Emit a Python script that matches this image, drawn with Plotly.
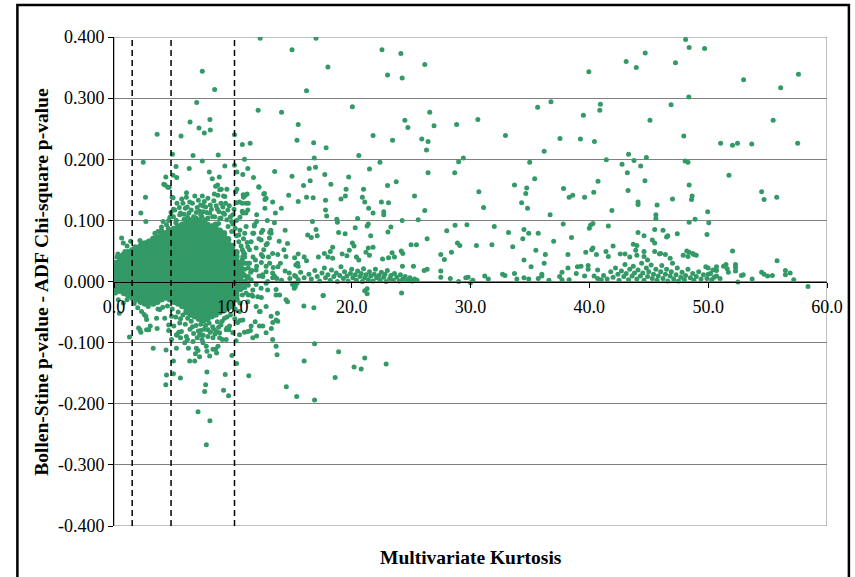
import plotly.graph_objects as go

# ---------------- data ----------------
x_ticks = [0, 10, 20, 30, 40, 50, 60]
x_tick_labels = ["0.0", "10.0", "20.0", "30.0", "40.0", "50.0", "60.0"]
y_ticks = [-0.4, -0.3, -0.2, -0.1, 0.0, 0.1, 0.2, 0.3, 0.4]
y_tick_labels = ["-0.400", "-0.300", "-0.200", "-0.100", "0.000", "0.100", "0.200", "0.300", "0.400"]
cutoffs = [1.53, 4.8, 10.14]

# dense core of points (too dense to separate individually; estimated columns)
core_x = [0.15, 0.50, 0.85, 1.20, 1.55, 1.90, 2.25, 2.60, 2.95, 3.30, 3.65, 4.00, 4.35, 4.70, 5.05, 5.40,
          5.75, 6.10, 6.45, 6.80, 7.15, 7.50, 7.85, 8.20, 8.55, 8.90, 9.25, 9.60, 9.95, 10.30, 10.65]
core_y = [
    [0.030, 0.023, 0.016, 0.009, 0.002, -0.005, -0.012],
    [0.041, 0.034, 0.027, 0.020, 0.013, 0.006, -0.001, -0.008, -0.015],
    [0.044, 0.037, 0.030, 0.023, 0.016, 0.009, 0.002, -0.005, -0.012, -0.019],
    [0.048, 0.041, 0.034, 0.027, 0.020, 0.013, 0.006, -0.001, -0.008, -0.015, -0.022],
    [0.051, 0.044, 0.037, 0.030, 0.023, 0.016, 0.009, 0.002, -0.005, -0.012, -0.019, -0.026],
    [0.055, 0.048, 0.041, 0.034, 0.027, 0.020, 0.013, 0.006, -0.001, -0.008, -0.015, -0.022, -0.029],
    [0.058, 0.051, 0.044, 0.037, 0.030, 0.023, 0.016, 0.009, 0.002, -0.005, -0.012, -0.019, -0.026, -0.033],
    [0.062, 0.055, 0.048, 0.041, 0.034, 0.027, 0.020, 0.013, 0.006, -0.001, -0.008, -0.015, -0.022, -0.029, -0.036],
    [0.065, 0.058, 0.051, 0.044, 0.037, 0.030, 0.023, 0.016, 0.009, 0.002, -0.005, -0.012, -0.019, -0.026, -0.033],
    [0.069, 0.062, 0.055, 0.048, 0.041, 0.034, 0.027, 0.020, 0.013, 0.006, -0.001, -0.008, -0.015, -0.022, -0.029, -0.036],
    [0.072, 0.065, 0.058, 0.051, 0.044, 0.037, 0.030, 0.023, 0.016, 0.009, 0.002, -0.005, -0.012, -0.019, -0.026, -0.033],
    [0.076, 0.069, 0.062, 0.055, 0.048, 0.041, 0.034, 0.027, 0.020, 0.013, 0.006, -0.001, -0.008, -0.015, -0.022, -0.029],
    [0.079, 0.072, 0.065, 0.058, 0.051, 0.044, 0.037, 0.030, 0.023, 0.016, 0.009, 0.002, -0.005, -0.012, -0.019, -0.026],
    [0.083, 0.076, 0.069, 0.062, 0.055, 0.048, 0.041, 0.034, 0.027, 0.020, 0.013, 0.006, -0.001, -0.008, -0.015, -0.022, -0.029],
    [0.086, 0.079, 0.072, 0.065, 0.058, 0.051, 0.044, 0.037, 0.030, 0.023, 0.016, 0.009, 0.002, -0.005, -0.012, -0.019, -0.026, -0.033],
    [0.090, 0.083, 0.076, 0.069, 0.062, 0.055, 0.048, 0.041, 0.034, 0.027, 0.020, 0.013, 0.006, -0.001, -0.008, -0.015, -0.022, -0.029, -0.036],
    [0.093, 0.086, 0.079, 0.072, 0.065, 0.058, 0.051, 0.044, 0.037, 0.030, 0.023, 0.016, 0.009, 0.002, -0.005, -0.012, -0.019, -0.026, -0.033, -0.040],
    [0.097, 0.090, 0.083, 0.076, 0.069, 0.062, 0.055, 0.048, 0.041, 0.034, 0.027, 0.020, 0.013, 0.006, -0.001, -0.008, -0.015, -0.022, -0.029, -0.036, -0.043, -0.050],
    [0.100, 0.093, 0.086, 0.079, 0.072, 0.065, 0.058, 0.051, 0.044, 0.037, 0.030, 0.023, 0.016, 0.009, 0.002, -0.005, -0.012, -0.019, -0.026, -0.033, -0.040, -0.047, -0.054],
    [0.097, 0.090, 0.083, 0.076, 0.069, 0.062, 0.055, 0.048, 0.041, 0.034, 0.027, 0.020, 0.013, 0.006, -0.001, -0.008, -0.015, -0.022, -0.029, -0.036, -0.043, -0.050, -0.057],
    [0.100, 0.093, 0.086, 0.079, 0.072, 0.065, 0.058, 0.051, 0.044, 0.037, 0.030, 0.023, 0.016, 0.009, 0.002, -0.005, -0.012, -0.019, -0.026, -0.033, -0.040, -0.047, -0.054, -0.061],
    [0.097, 0.090, 0.083, 0.076, 0.069, 0.062, 0.055, 0.048, 0.041, 0.034, 0.027, 0.020, 0.013, 0.006, -0.001, -0.008, -0.015, -0.022, -0.029, -0.036, -0.043, -0.050, -0.057, -0.064],
    [0.093, 0.086, 0.079, 0.072, 0.065, 0.058, 0.051, 0.044, 0.037, 0.030, 0.023, 0.016, 0.009, 0.002, -0.005, -0.012, -0.019, -0.026, -0.033, -0.040, -0.047, -0.054, -0.061],
    [0.090, 0.083, 0.076, 0.069, 0.062, 0.055, 0.048, 0.041, 0.034, 0.027, 0.020, 0.013, 0.006, -0.001, -0.008, -0.015, -0.022, -0.029, -0.036, -0.043, -0.050, -0.057],
    [0.093, 0.086, 0.079, 0.072, 0.065, 0.058, 0.051, 0.044, 0.037, 0.030, 0.023, 0.016, 0.009, 0.002, -0.005, -0.012, -0.019, -0.026, -0.033, -0.040, -0.047, -0.054],
    [0.083, 0.076, 0.069, 0.062, 0.055, 0.048, 0.041, 0.034, 0.027, 0.020, 0.013, 0.006, -0.001, -0.008, -0.015, -0.022, -0.029, -0.036, -0.043, -0.050],
    [0.079, 0.072, 0.065, 0.058, 0.051, 0.044, 0.037, 0.030, 0.023, 0.016, 0.009, 0.002, -0.005, -0.012, -0.019, -0.026, -0.033, -0.040, -0.047],
    [0.069, 0.062, 0.055, 0.048, 0.041, 0.034, 0.027, 0.020, 0.013, 0.006, -0.001, -0.008, -0.015, -0.022, -0.029, -0.036, -0.043],
    [0.058, 0.051, 0.044, 0.037, 0.030, 0.023, 0.016, 0.009, 0.002, -0.005, -0.012, -0.019, -0.026, -0.033, -0.040],
    [0.048, 0.041, 0.034, 0.027, 0.020, 0.013, 0.006, -0.001, -0.008, -0.015, -0.022, -0.029],
    [0.030, 0.023, 0.016, 0.009, 0.002, -0.005, -0.012],
]

# dense fringe around the core (kurtosis, p-value difference)
fringe_pts = [
    (4.7, 0.105), (5.0, 0.118), (5.3, 0.128), (5.6, 0.112), (5.7, 0.135), (6.0, 0.120), (6.1, 0.145),
    (6.3, 0.112), (6.6, 0.128), (6.8, 0.140), (6.9, 0.104), (7.1, 0.133), (7.2, 0.115), (7.4, 0.106),
    (7.5, 0.124), (7.8, 0.113), (7.9, 0.136), (8.1, 0.125), (8.3, 0.106), (8.4, 0.132), (8.7, 0.118),
    (8.9, 0.103), (9.0, 0.128), (9.2, 0.112), (9.5, 0.101), (9.7, 0.124), (9.9, 0.098), (10.1, 0.118),
    (10.3, 0.100), (5.9, 0.102), (6.4, 0.100), (7.7, 0.101), (8.8, 0.095), (9.6, 0.090), (9.9, 0.082),
    (10.3, 0.075), (10.5, 0.065), (10.8, 0.052),
    (11.0, 0.040), (11.0, 0.030), (11.0, 0.020), (11.0, 0.010), (11.0, 0.000), (11.0, -0.010), (10.9, 0.048),
    (11.3, 0.022), (11.3, 0.008), (11.3, -0.006), (11.5, 0.015),
    (6.0, -0.070), (6.4, -0.078), (6.7, -0.085), (7.0, -0.092), (7.3, -0.080), (7.5, -0.088), (7.9, -0.090),
    (8.1, -0.083), (8.4, -0.078), (8.8, -0.075), (9.1, -0.065), (9.5, -0.058), (7.4, -0.095), (7.7, -0.072),
    (6.6, -0.074), (5.6, -0.061), (5.2, -0.058),
]

# scattered points above the core
upper_pts = [
    (12.3, 0.398), (14.98, 0.379), (7.43, 0.344), (8.47, 0.314), (12.13, 0.280), (14.1, 0.277), (15.5, 0.257),
    (6.96, 0.293), (6.4, 0.261), (8.07, 0.265), (7.15, 0.251), (8.1, 0.248), (7.6, 0.243), (3.63, 0.241),
    (5.64, 0.238), (10.14, 0.240), (10.8, 0.224), (11.46, 0.226), (15.4, 0.231), (2.46, 0.195), (4.92, 0.208),
    (6.65, 0.206), (8.77, 0.207), (7.43, 0.197), (10.98, 0.200), (10.14, 0.190), (5.22, 0.188), (9.33, 0.189),
    (11.26, 0.185), (6.33, 0.185), (13.52, 0.180), (14.98, 0.172), (8.02, 0.179), (10.34, 0.179), (10.84, 0.175),
    (4.97, 0.174), (4.36, 0.171), (5.28, 0.170), (8.86, 0.171), (11.74, 0.170), (8.27, 0.168), (4.19, 0.159),
    (4.53, 0.154), (8.72, 0.158), (9.03, 0.151), (9.5, 0.151), (10.34, 0.151), (10.23, 0.147), (12.2, 0.154),
    (2.65, 0.138), (4.97, 0.137), (6.09, 0.138), (7.43, 0.140), (8.44, 0.143), (9.33, 0.139), (10.87, 0.142),
    (11.2, 0.143), (12.6, 0.143), (14.7, 0.141),
    (17.0, 0.398), (22.55, 0.379), (24.14, 0.373), (18.0, 0.351), (26.15, 0.355), (23.02, 0.338), (24.25, 0.333),
    (16.2, 0.312), (20.06, 0.286), (24.48, 0.264), (26.57, 0.277), (24.73, 0.252), (26.93, 0.255), (28.83, 0.257),
    (16.8, 0.227), (17.85, 0.219), (21.8, 0.239), (23.44, 0.231), (25.9, 0.233), (26.43, 0.229), (26.3, 0.215),
    (20.6, 0.206), (16.85, 0.202), (29.4, 0.202), (29.0, 0.196), (22.38, 0.195), (16.43, 0.185), (16.96, 0.187),
    (21.5, 0.184), (17.74, 0.175), (19.75, 0.171), (26.43, 0.178), (28.67, 0.178), (16.51, 0.165), (15.95, 0.157),
    (18.25, 0.159), (23.02, 0.157), (23.75, 0.163), (21.0, 0.151), (19.53, 0.151), (19.47, 0.140), (20.9, 0.138),
    (16.2, 0.138), (16.76, 0.137), (25.29, 0.140), (19.1, 0.135),
    (2.26, 0.112), (2.68, 0.098), (4.13, 0.098), (4.3, 0.158), (4.64, 0.154), (4.89, 0.138), (5.8, 0.128),
    (6.17, 0.122), (6.37, 0.130), (7.29, 0.125), (7.71, 0.122), (6.93, 0.113), (7.49, 0.114), (8.05, 0.112),
    (8.47, 0.106), (8.83, 0.114), (9.16, 0.122), (9.39, 0.128), (9.58, 0.117), (9.8, 0.106), (8.74, 0.141),
    (9.22, 0.140), (8.55, 0.156), (8.89, 0.150), (11.06, 0.141), (10.9, 0.138), (10.56, 0.130), (11.12, 0.128),
    (11.26, 0.117), (10.84, 0.112), (12.0, 0.109), (12.18, 0.155), (12.66, 0.144), (12.8, 0.136), (13.35, 0.130),
    (13.58, 0.112), (5.9, 0.110), (6.5, 0.117), (6.7, 0.106), (7.0, 0.121), (7.3, 0.109), (7.9, 0.104),
    (8.2, 0.118), (8.6, 0.124), (9.0, 0.104), (9.3, 0.110), (6.2, 0.105), (7.6, 0.131), (5.5, 0.121),
    (5.0, 0.106), (5.2, 0.096), (4.6, 0.100), (4.0, 0.089), (3.7, 0.082), (0.92, 0.049), (1.76, 0.057),
    (2.18, 0.067), (2.32, 0.063), (3.3, 0.071), (3.44, 0.079), (4.0, 0.084), (4.42, 0.093), (4.56, 0.087),
    (5.25, 0.100), (5.53, 0.109), (5.11, 0.117), (4.8, 0.113), (0.33, 0.045), (0.64, 0.071), (0.78, 0.063),
    (1.4, 0.066), (1.1, 0.058), (0.25, 0.040),
]

# scattered points around / below the core
lower_pts = [
    (0.45, -0.052), (1.3, -0.091), (2.07, -0.076), (2.26, -0.083), (2.93, -0.079), (3.05, -0.073), (2.74, -0.062),
    (2.54, -0.054), (3.3, -0.109), (3.63, -0.077), (4.38, -0.112), (4.27, -0.060), (4.6, -0.071), (4.6, -0.080),
    (5.0, -0.130), (4.42, -0.153), (4.36, -0.169), (5.0, -0.151), (5.59, -0.158), (5.25, -0.109), (5.3, -0.088),
    (5.45, -0.083), (5.6, -0.092), (5.95, -0.100), (6.18, -0.095), (6.26, -0.109), (6.37, -0.130), (6.79, -0.130),
    (7.07, -0.113), (7.2, -0.123), (6.85, -0.118), (7.82, -0.148), (7.71, -0.169), (7.63, -0.180), (7.07, -0.213),
    (8.07, -0.228), (7.77, -0.267), (8.05, -0.122), (7.82, -0.114), (8.55, -0.111), (8.63, -0.117), (9.36, -0.152),
    (9.22, -0.178), (9.64, -0.187), (9.92, -0.121), (10.31, -0.134), (8.89, -0.092), (9.44, -0.095), (8.89, -0.084),
    (9.5, -0.076), (9.67, -0.079), (10.28, -0.097), (10.17, -0.061), (10.6, -0.064), (10.4, -0.067), (10.98, -0.083),
    (11.48, -0.080), (11.88, -0.066), (12.0, -0.089), (12.3, -0.049), (11.34, -0.154), (13.75, -0.052),
    (13.36, -0.067), (13.24, -0.077), (13.72, -0.120), (14.5, -0.172), (15.37, -0.188), (16.0, -0.130),
    (16.88, -0.102), (16.88, -0.194), (14.47, -0.030), (13.94, -0.022), (15.98, -0.040), (16.82, -0.043),
    (17.6, -0.023), (18.61, -0.157), (18.9, -0.115), (20.2, -0.140), (20.8, -0.143), (21.1, -0.125), (22.9, -0.135),
    (0.02, 0.030), (0.08, 0.016), (0.14, -0.019), (0.36, -0.030), (0.78, -0.035), (2.18, -0.079), (2.74, -0.079),
    (2.68, -0.057), (3.58, -0.060), (3.86, -0.046), (2.32, -0.049), (2.88, -0.041), (3.3, -0.035), (4.84, -0.095),
    (5.25, -0.087), (5.67, -0.082), (4.84, -0.057), (5.03, -0.073), (5.53, -0.068), (6.09, -0.090), (6.65, -0.098),
    (7.21, -0.087), (6.93, -0.109), (7.49, -0.100), (7.77, -0.106), (8.33, -0.111), (8.75, -0.106), (9.11, -0.095),
    (8.33, -0.092), (7.91, -0.079), (8.61, -0.082), (9.72, -0.073), (10.0, -0.084), (9.44, -0.079), (10.56, -0.087),
    (11.26, -0.082), (12.24, -0.073), (11.68, -0.092), (12.8, -0.084), (13.35, -0.095), (13.64, -0.106),
    (13.78, -0.065), (6.5, -0.065), (6.9, -0.072), (7.3, -0.070), (7.6, -0.078), (8.0, -0.068), (8.3, -0.074),
    (8.7, -0.066), (9.0, -0.071), (9.3, -0.060), (7.1, -0.081), (8.5, -0.086), (6.2, -0.060), (5.8, -0.055),
    (5.4, -0.050), (4.9, -0.045), (4.5, -0.040), (4.1, -0.042), (3.7, -0.045), (1.7, -0.036), (1.1, -0.030),
    (2.0, -0.043), (9.8, -0.055), (10.2, -0.045), (10.6, -0.035),
]

# points between kurtosis 10 and 31
mid_pts = [
    (12.7, 0.134), (15.5, 0.131), (17.8, 0.133), (21.1, 0.130), (22.5, 0.130), (23.1, 0.129), (10.8, 0.128),
    (11.3, 0.128), (10.3, 0.129), (12.7, 0.120), (14.08, 0.120), (17.8, 0.117), (21.43, 0.120), (26.15, 0.116),
    (10.8, 0.115), (11.1, 0.112), (22.7, 0.114), (22.7, 0.109), (17.9, 0.107), (21.8, 0.112), (10.0, 0.109),
    (10.6, 0.105), (12.0, 0.098), (13.5, 0.096), (16.7, 0.098), (18.75, 0.102), (18.8, 0.097), (20.5, 0.103),
    (21.4, 0.094), (21.3, 0.091), (24.25, 0.100), (25.6, 0.101), (28.0, 0.083), (28.7, 0.092), (29.7, 0.093),
    (13.2, 0.084), (13.1, 0.080), (14.4, 0.084), (20.3, 0.088), (18.9, 0.080), (19.45, 0.078), (17.0, 0.085),
    (16.3, 0.076), (16.6, 0.072), (17.1, 0.075), (21.6, 0.075), (23.05, 0.081), (23.3, 0.089), (26.35, 0.070),
    (11.76, 0.079), (12.4, 0.080), (11.0, 0.079), (10.6, 0.084), (28.9, 0.063), (29.1, 0.059),
    (28.4, 0.048), (27.5, 0.044), (27.8, 0.036), (27.5, 0.017), (27.5, 0.007), (28.3, 0.005), (29.0, 0.000),
    (29.6, 0.006), (29.8, 0.007), (30.0, -0.002), (26.35, 0.020), (26.1, 0.018), (25.2, 0.025), (24.27, 0.025),
    (25.45, 0.060), (25.0, 0.060), (24.17, 0.050), (24.3, 0.046), (23.4, 0.047), (23.6, 0.040), (23.1, 0.039),
    (22.6, 0.037), (21.8, 0.056), (21.4, 0.055), (21.2, 0.048), (21.5, 0.043), (20.06, 0.063), (20.2, 0.058),
    (19.8, 0.051), (19.2, 0.045), (19.6, 0.042), (20.4, 0.040), (20.6, 0.035), (18.4, 0.056), (18.2, 0.049),
    (17.7, 0.046), (18.0, 0.040), (18.4, 0.038), (17.2, 0.040), (15.5, 0.045), (16.0, 0.040), (16.2, 0.034),
    (15.2, 0.039), (15.3, 0.027), (15.5, 0.025), (12.4, 0.044), (12.4, 0.031),
    (21.3, -0.012), (21.1, -0.015), (21.3, -0.020), (24.2, -0.019), (17.6, -0.023), (15.2, -0.003),
    (15.4, -0.003), (12.4, -0.026), (10.8, -0.022), (11.3, -0.022), (11.6, -0.022),
    (10.0, 0.094), (10.2, 0.087), (10.5, 0.076), (10.9, 0.070), (11.2, 0.064), (10.7, 0.058), (11.4, 0.052),
    (11.0, 0.045), (11.7, 0.040), (10.8, 0.036), (11.3, 0.030), (12.0, 0.025), (11.6, 0.018), (10.9, 0.012),
    (11.2, 0.005), (12.2, 0.009), (12.8, 0.016), (12.6, 0.052), (12.9, 0.062), (13.0, 0.040), (13.4, 0.023),
    (13.7, 0.005), (14.0, 0.030), (14.3, 0.052), (14.6, 0.062), (13.9, 0.066), (12.2, 0.070), (11.8, 0.091),
    (12.9, 0.100), (11.12, 0.090), (11.82, 0.093), (12.52, 0.084), (13.22, 0.079), (13.08, 0.071), (12.38, 0.068),
    (11.68, 0.079), (11.54, 0.065), (11.26, 0.057), (11.96, 0.055), (12.8, 0.060), (13.35, 0.046), (12.52, 0.041),
    (11.9, 0.035), (11.12, 0.030), (10.84, 0.041), (12.8, 0.025), (11.96, 0.019), (12.52, 0.008), (13.35, 0.006),
    (11.96, -0.005), (11.54, 0.003), (11.12, -0.003), (12.8, -0.003), (12.93, -0.014), (13.64, -0.022),
    (12.1, -0.025), (11.68, -0.014), (11.12, -0.019), (11.26, -0.033), (11.96, -0.041), (12.8, -0.041),
    (13.22, -0.057), (13.64, -0.063), (12.52, -0.073), (11.54, -0.073), (10.84, -0.063), (10.56, -0.049),
    (14.75, 0.014), (15.03, -0.005), (15.3, 0.008), (15.17, -0.011), (15.45, 0.030), (12.5, 0.011), (12.93, 0.0),
    (12.38, -0.011), (13.35, 0.014), (13.64, -0.013), (11.68, -0.024), (12.24, -0.049), (10.56, -0.013),
    (10.98, -0.003), (10.7, 0.014), (11.4, 0.030), (14.47, 0.041), (15.26, -0.008), (14.6, -0.033), (13.78, 0.044),
]

# near-zero band, kurtosis 13-26
band_pts = [
    (16.4, 0.012), (16.6, 0.004), (16.9, 0.018), (17.1, 0.008), (17.3, 0.001), (17.5, 0.014), (17.7, 0.022),
    (17.8, 0.006), (18.0, 0.011), (18.2, 0.002), (18.3, 0.019), (18.5, 0.008), (18.7, 0.014), (18.8, 0.000),
    (19.0, 0.010), (19.1, 0.024), (19.3, 0.005), (19.4, 0.016), (19.6, 0.009), (19.7, 0.001), (19.9, 0.013),
    (20.0, 0.020), (20.1, 0.006), (20.3, 0.011), (20.4, 0.002), (20.5, 0.017), (20.7, 0.008), (20.8, 0.013),
    (20.9, 0.000), (21.0, 0.021), (21.1, 0.006), (21.2, 0.011), (21.4, 0.003), (21.5, 0.016), (21.6, 0.009),
    (21.8, 0.001), (21.9, 0.012), (22.0, 0.020), (22.1, 0.006), (22.3, 0.010), (22.4, 0.002), (22.5, 0.015),
    (22.7, 0.007), (22.8, 0.012), (22.9, 0.000), (23.0, 0.018), (23.2, 0.005), (23.3, 0.010), (23.5, 0.002),
    (23.6, 0.013), (23.8, 0.007), (24.0, 0.001), (24.1, 0.011), (24.3, 0.004), (24.5, 0.008), (24.7, 0.002),
    (24.9, 0.006), (25.1, 0.001), (25.3, 0.004), (25.5, 0.002), (16.0, 0.006), (15.7, 0.015), (15.5, 0.003),
    (15.2, 0.010), (14.8, 0.005), (14.4, 0.017), (14.1, 0.002), (13.8, 0.024), (13.5, 0.009), (13.1, 0.030),
]

# points with kurtosis above 30
right_pts = [
    (48.1, 0.396), (48.4, 0.383), (49.7, 0.381), (44.7, 0.374), (43.1, 0.360), (43.95, 0.350), (47.25, 0.358),
    (39.96, 0.343), (52.98, 0.330), (57.6, 0.339), (56.1, 0.317), (48.37, 0.302), (36.77, 0.294), (35.65, 0.285),
    (40.93, 0.290), (40.88, 0.280), (46.88, 0.289), (30.62, 0.265), (39.5, 0.272), (45.1, 0.264), (55.47, 0.264),
    (32.94, 0.239), (37.53, 0.234), (39.25, 0.233), (40.43, 0.229), (47.95, 0.238), (51.05, 0.226), (52.05, 0.223),
    (52.47, 0.226), (53.67, 0.225), (57.53, 0.226), (36.2, 0.213), (34.98, 0.195), (41.43, 0.199), (43.3, 0.208),
    (44.8, 0.203), (43.76, 0.198), (42.75, 0.192), (44.32, 0.189), (48.06, 0.197), (48.3, 0.195), (43.2, 0.178),
    (51.75, 0.174), (35.4, 0.168), (40.73, 0.164), (44.68, 0.165), (33.7, 0.158), (34.73, 0.153), (48.4, 0.158),
    (30.7, 0.147), (34.65, 0.144), (37.83, 0.152), (40.37, 0.146), (43.26, 0.149), (54.5, 0.147), (55.77, 0.138),
    (38.6, 0.141), (38.3, 0.138), (39.6, 0.138), (47.0, 0.135), (48.65, 0.140), (54.7, 0.134), (48.6, 0.134),
    (31.1, 0.121), (34.3, 0.129), (34.8, 0.120), (44.1, 0.130), (44.1, 0.126), (45.7, 0.125), (41.9, 0.116),
    (49.96, 0.114), (36.7, 0.109), (45.6, 0.109), (45.6, 0.103), (48.9, 0.102), (48.4, 0.097), (50.05, 0.096),
    (32.0, 0.090), (37.8, 0.094), (40.3, 0.095), (40.1, 0.092), (40.0, 0.087), (41.6, 0.091), (34.5, 0.085),
    (34.9, 0.079), (35.7, 0.079), (33.2, 0.080), (44.1, 0.080), (44.6, 0.075), (45.5, 0.085), (46.2, 0.084),
    (46.6, 0.075), (46.5, 0.073), (47.4, 0.078), (49.9, 0.077), (34.4, 0.070), (37.0, 0.066), (38.5, 0.072),
    (45.3, 0.068), (45.5, 0.063), (30.5, 0.059), (31.8, 0.060), (33.55, 0.057), (43.7, 0.061), (44.0, 0.059),
    (35.5, 0.051), (36.3, 0.044), (38.2, 0.044), (39.7, 0.048), (40.2, 0.052), (40.3, 0.055), (40.6, 0.044),
    (41.4, 0.049), (41.6, 0.041), (42.0, 0.058), (42.6, 0.045), (43.0, 0.045), (43.9, 0.051), (43.4, 0.040),
    (44.0, 0.043), (44.6, 0.041), (44.9, 0.035), (45.5, 0.049), (46.0, 0.046), (46.8, 0.038), (48.2, 0.050),
    (48.4, 0.048), (48.8, 0.044), (47.9, 0.043), (34.5, 0.035), (35.1, 0.024), (36.2, 0.030), (38.2, 0.022),
    (39.0, 0.024), (39.3, 0.025), (39.9, 0.026), (39.9, 0.020), (40.7, 0.019),
    (31.2, 0.009), (32.7, 0.012), (32.9, 0.010), (33.7, 0.013), (33.9, 0.004), (34.5, 0.006), (34.9, 0.004),
    (35.7, 0.005), (36.0, 0.012), (36.0, 0.009), (37.5, 0.008), (37.7, 0.015), (38.3, 0.003), (37.7, 0.003),
    (38.9, 0.013), (39.6, 0.009), (40.4, 0.009), (40.7, 0.005), (41.0, 0.003), (31.5, 0.004), (30.2, 0.002),
    (36.6, 0.002),
    (41.2, 0.010), (41.5, 0.004), (41.8, 0.016), (42.0, 0.007), (42.2, 0.022), (42.4, 0.012), (42.5, 0.002),
    (42.7, 0.017), (42.9, 0.008), (43.0, 0.028), (43.1, 0.013), (43.3, 0.003), (43.4, 0.020), (43.6, 0.009),
    (43.7, 0.025), (43.8, 0.014), (44.0, 0.004), (44.1, 0.019), (44.3, 0.009), (44.4, 0.030), (44.5, 0.014),
    (44.6, 0.002), (44.8, 0.022), (44.9, 0.008), (45.0, 0.016), (45.2, 0.027), (45.3, 0.005), (45.4, 0.012),
    (45.6, 0.020), (45.7, 0.002), (45.8, 0.009), (46.0, 0.016), (46.1, 0.026), (46.2, 0.005), (46.4, 0.012),
    (46.5, 0.020), (46.6, 0.001), (46.8, 0.009), (46.9, 0.016), (47.0, 0.030), (47.1, 0.004), (47.3, 0.011),
    (47.4, 0.022), (47.5, 0.001), (47.7, 0.007), (47.8, 0.015), (48.0, 0.003), (48.1, 0.010), (48.3, 0.020),
    (48.5, 0.006), (48.7, 0.013), (48.8, 0.002), (49.0, 0.008), (49.2, 0.016), (49.4, 0.004), (49.6, 0.011),
    (49.9, 0.005), (50.2, 0.013), (50.5, 0.007), (50.7, 0.018), (50.0, 0.022), (49.8, 0.024), (50.3, 0.003),
    (55.8, 0.034), (56.5, 0.018), (56.9, 0.014), (56.5, 0.011), (57.2, 0.003), (58.4, -0.008), (54.5, 0.015),
    (54.7, 0.012), (55.0, 0.009), (55.4, 0.010), (53.7, 0.004), (52.5, -0.001), (52.95, 0.011), (52.8, 0.010),
    (52.3, 0.023), (52.3, 0.017), (52.3, 0.028), (51.3, 0.025), (51.5, 0.028), (51.6, 0.021), (51.7, 0.015),
    (50.7, 0.024), (50.4, 0.019), (50.0, 0.012), (50.7, 0.009), (51.0, 0.005), (52.05, 0.050), (48.7, 0.046),
    (49.0, 0.043), (48.3, 0.041), (45.9, 0.045), (46.4, 0.044), (44.6, 0.049),
]

# ---------------- build ----------------
core_kurt = []
core_diff = []
for cx, cys in zip(core_x, core_y):
    for cy in cys:
        core_kurt.append(cx)
        core_diff.append(cy)
kurt = []
diff = []
for group in (fringe_pts, upper_pts, lower_pts, mid_pts, band_pts, right_pts):
    for px, py in group:
        kurt.append(px)
        diff.append(py)

GREEN = "#339966"
FONT = "Liberation Serif, Times New Roman, serif"

fig = go.Figure()
fig.add_trace(go.Scatter(
    x=core_kurt, y=core_diff, mode="markers",
    marker=dict(size=6.5, color=GREEN, line=dict(width=0)),
    showlegend=False, hoverinfo="skip",
))
fig.add_trace(go.Scatter(
    x=kurt, y=diff, mode="markers",
    marker=dict(size=5, color=GREEN, line=dict(width=0)),
    showlegend=False, hoverinfo="skip",
))

shapes = []
# plot-area frame (grey)
shapes.append(dict(type="rect", xref="x", yref="y", x0=0, x1=60, y0=-0.4, y1=0.4,
                   line=dict(color="#808080", width=1), layer="below"))
for c in cutoffs:
    shapes.append(dict(type="line", xref="x", yref="y", x0=c, x1=c, y0=-0.4, y1=0.4,
                       line=dict(color="black", width=1.5, dash="6px,4px"), layer="above"))
# outer frame of the figure
shapes.append(dict(type="rect", xref="paper", yref="paper", x0=-0.1355, x1=1.0307, y0=-0.25, y1=1.0654,
                   line=dict(color="black", width=2.5), layer="above"))

fig.update_layout(
    width=855, height=577,
    margin=dict(l=114, r=25, t=37, b=51, pad=0),
    paper_bgcolor="white", plot_bgcolor="white",
    font=dict(family=FONT, size=18, color="black"),
    shapes=shapes,
    xaxis=dict(
        range=[0, 60], tickvals=x_ticks, ticktext=x_tick_labels,
        showgrid=False, zeroline=False,
        showline=True, linecolor="black", linewidth=1,
        anchor="free", position=0.5,
        ticks="outside", ticklen=5, tickcolor="black",
        ticklabelstandoff=4,
        tickfont=dict(family=FONT, size=18, color="black"),
    ),
    yaxis=dict(
        range=[-0.4, 0.4], tickvals=y_ticks, ticktext=y_tick_labels,
        showgrid=True, gridcolor="#808080", gridwidth=1,
        zeroline=False,
        showline=True, linecolor="black", linewidth=1,
        ticks="outside", ticklen=5, tickcolor="black",
        tickfont=dict(family=FONT, size=18, color="black"),
    ),
    annotations=[
        dict(text="<b>Multivariate Kurtosis</b>", xref="paper", yref="paper", x=0.5, y=-0.0654,
             xanchor="center", yanchor="middle", showarrow=False,
             font=dict(family=FONT, size=19.5, color="black")),
        dict(text="<b>Bollen-Stine p-value - ADF Chi-square p-value</b>", xref="paper", yref="paper",
             x=-0.102, y=0.5, xanchor="center", yanchor="middle", textangle=-90, showarrow=False,
             font=dict(family=FONT, size=19.5, color="black")),
    ],
)

fig.write_html("out.html", config={"displayModeBar": False},
               post_script="document.body.style.margin='0';document.body.style.overflow='hidden';")
